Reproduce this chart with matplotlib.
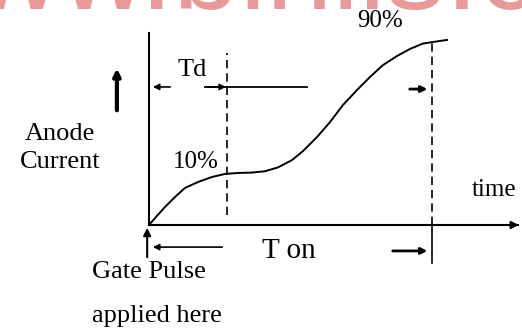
import matplotlib
matplotlib.use('Agg')
import matplotlib.pyplot as plt

plt.rcParams['font.family'] = ['Liberation Serif', 'DejaVu Serif']

# anode current rise after gate pulse (time in arbitrary units, current as fraction)
t_curve = [0.0, 0.163, 0.434, 0.705, 0.976, 1.328, 1.707, 2.060, 2.412, 2.791,
           3.144, 3.496, 3.875, 4.173, 4.553, 4.905, 5.257, 5.637, 5.989, 6.341,
           6.721, 7.073, 7.425, 7.696, 8.076]
i_curve = [0.0, 0.036, 0.094, 0.146, 0.193, 0.224, 0.250, 0.266, 0.271, 0.273,
           0.280, 0.300, 0.338, 0.385, 0.458, 0.536, 0.625, 0.703, 0.771, 0.833,
           0.880, 0.917, 0.945, 0.953, 0.964]

td = 2.11      # delay time (10% point)
ton = 7.67     # turn-on time (90% point)

labels = ['Td', '10%', '90%', 'T on', 'time']

fig = plt.figure(figsize=(5.22, 3.33), dpi=100)
ax = fig.add_axes([149 / 522, 108 / 333, 369 / 522, 192 / 333])
ax.set_xlim(0, 10)
ax.set_ylim(0, 1)
for s in ['top', 'right']:
    ax.spines[s].set_visible(False)
ax.spines['left'].set_linewidth(1.5)
ax.spines['bottom'].set_linewidth(1.5)
ax.set_xticks([])
ax.set_yticks([])
ax.patch.set_alpha(0)

# x axis arrow head
ax.annotate('', xy=(10.1, 0), xytext=(9.6, 0), annotation_clip=False,
            arrowprops=dict(arrowstyle='-|>', color='black', lw=1.2,
                            mutation_scale=12))

ax.plot(t_curve, i_curve, color='black', lw=1.4, clip_on=False,
        solid_joinstyle='round')

# dashed markers at td and ton
ax.plot([td, td], [0.052, 0.896], color='black', lw=1.2, ls=(0, (5, 3)), clip_on=False)
ax.plot([ton, ton], [0.0, 0.953], color='black', lw=1.2, ls=(0, (5, 3)), clip_on=False)
ax.plot([ton, ton], [0.0, -0.198], color='black', lw=1.2, clip_on=False)

arrow = dict(arrowstyle='-|>', color='black', lw=1.2, mutation_scale=9)

# Td dimension
ax.annotate('', xy=(0.03, 0.719), xytext=(0.65, 0.719), arrowprops=arrow, annotation_clip=False)
ax.plot([1.52, 4.28], [0.719, 0.719], color='black', lw=1.3, clip_on=False)
ax.annotate('', xy=(td + 0.05, 0.719), xytext=(1.52, 0.719), arrowprops=arrow, annotation_clip=False)
ax.annotate('', xy=(ton - 0.05, 0.708), xytext=(6.99, 0.708), arrowprops=dict(arrow, lw=2),
            annotation_clip=False)

# Ton dimension
ax.annotate('', xy=(0.03, -0.115), xytext=(2.06, -0.115), arrowprops=arrow, annotation_clip=False)
ax.annotate('', xy=(ton - 0.05, -0.135), xytext=(6.53, -0.135), arrowprops=dict(arrow, lw=2),
            annotation_clip=False)

# gate pulse arrow
ax.annotate('', xy=(-0.05, 0.0), xytext=(-0.05, -0.182), annotation_clip=False,
            arrowprops=dict(arrowstyle='-|>', color='black', lw=1.5, mutation_scale=11))

# current direction arrow beside label
ax.annotate('', xy=(-0.87, 0.83), xytext=(-0.87, 0.583), annotation_clip=False,
            arrowprops=dict(arrowstyle='-|>', color='black', lw=3, mutation_scale=10))

fs = 19
ax.text(1.17, 0.807, labels[0], fontsize=fs, ha='center', va='center')
ax.text(1.27, 0.328, labels[1], fontsize=fs - 1, ha='center', va='center')
ax.text(6.26, 1.06, labels[2], fontsize=fs - 1, ha='center', va='center')
ax.text(3.79, -0.135, labels[3], fontsize=fs + 2, ha='center', va='center')
ax.text(8.75, 0.182, labels[4], fontsize=fs - 1, ha='left', va='center')
ax.text(-2.41, 0.474, 'Anode', fontsize=fs, ha='center', va='center')
ax.text(-2.41, 0.328, 'Current', fontsize=fs, ha='center', va='center')
ax.text(0.0, -0.245, 'Gate Pulse', fontsize=fs, ha='center', va='center')
ax.text(0.22, -0.474, 'applied here', fontsize=fs, ha='center', va='center')

# watermark
fig.text(-0.214, 0.973, 'www.binils.com', fontsize=86, family='Liberation Sans',
         color='#e89a9a', ha='left', va='baseline', zorder=0)

fig.savefig('out.png', dpi=100)
